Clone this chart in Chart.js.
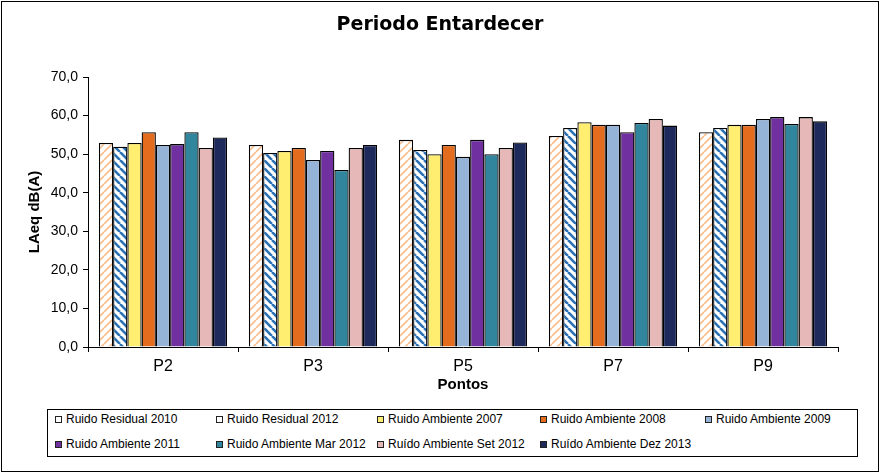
<!DOCTYPE html>
<html>
<head>
<meta charset="utf-8">
<script src="https://cdn.jsdelivr.net/npm/chart.js@4/dist/chart.umd.min.js"></script>
<style>
  body { margin: 0; background: #fff; }
  #wrap { position: relative; width: 880px; height: 472px; overflow: hidden; }
  #c { position: absolute; left: 0; top: 0; }
  #title { position: absolute; left: 0; top: 14px; width: 880px; text-align: center;
           font: bold 19px "DejaVu Sans", sans-serif; line-height: 19px; color: #000; }
  #frame { position: absolute; left: 1px; top: 1px; width: 878px; height: 471px;
           border: 1px solid #000; box-sizing: border-box; pointer-events: none; }
  #legend { position: absolute; left: 47px; top: 409px; width: 811px; height: 48px;
            border: 1px solid #000; box-sizing: border-box; background: #fff; }
  .item { position: absolute; height: 14px; display: flex; align-items: center;
          font: 12px "Liberation Sans", Arial, sans-serif; color: #000; white-space: nowrap; }
  .mk { width: 7px; height: 7px; border: 1px solid #222; box-sizing: border-box; margin-right: 4px; }
</style>
</head>
<body>
<div id="wrap">
  <canvas id="c" width="880" height="472"></canvas>
  <div id="title">Periodo Entardecer</div>
  <div id="legend"></div>
  <div id="frame"></div>
</div>
<script>
// ---- data ----
const categories = ['P2', 'P3', 'P5', 'P7', 'P9'];
const seriesLabels = [
  'Ruido Residual 2010', 'Ruido Residual 2012', 'Ruido Ambiente 2007',
  'Ruido Ambiente 2008', 'Ruido Ambiente 2009', 'Ruido Ambiente 2011',
  'Ruido Ambiente Mar 2012', 'Ruído Ambiente Set 2012', 'Ruído Ambiente Dez 2013'
];
const residual2010   = [52.9, 52.4, 53.7, 54.7, 55.7];
const residual2012   = [51.9, 50.3, 51.1, 56.8, 56.8];
const ambiente2007   = [52.9, 50.8, 50.0, 58.3, 57.6];
const ambiente2008   = [55.7, 51.6, 52.4, 57.6, 57.6];
const ambiente2009   = [52.4, 48.5, 49.3, 57.6, 59.1];
const ambiente2011   = [52.6, 50.8, 53.7, 55.7, 59.6];
const ambienteMar2012 = [55.7, 45.9, 50.0, 58.1, 57.8];
const ambienteSet2012 = [51.6, 51.6, 51.6, 59.1, 59.6];
const ambienteDez2013 = [54.3, 52.4, 53.0, 57.4, 58.5];
const yTickValues = [0, 10, 20, 30, 40, 50, 60, 70];

const seriesValues = [residual2010, residual2012, ambiente2007, ambiente2008, ambiente2009,
  ambiente2011, ambienteMar2012, ambienteSet2012, ambienteDez2013];

// ---- styles ----
const ctx = document.getElementById('c').getContext('2d');
function hatch(color, lw, size, dir) {
  const cv = document.createElement('canvas');
  cv.width = size; cv.height = size;
  const x = cv.getContext('2d');
  x.fillStyle = '#fff'; x.fillRect(0, 0, size, size);
  x.strokeStyle = color; x.lineWidth = lw; x.beginPath();
  for (let k = -1; k <= 1; k++) {
    if (dir === '/') { x.moveTo(k * size, size); x.lineTo(k * size + size, 0); }
    else { x.moveTo(k * size, 0); x.lineTo(k * size + size, size); }
  }
  x.stroke();
  return ctx.createPattern(cv, 'repeat');
}
const fills = [
  hatch('#F9BE8C', 1.7, 8, '/'),
  hatch('#2A72B5', 2.6, 8, '\\'),
  '#FFEE70', '#E46C1E', '#95B3D7', '#7030A0', '#31859C', '#E6B9B8', '#1F2A5C'
];
const legendSwatch = ['#FFFFFF', '#FFFFFF', '#FFEE70', '#E46C1E', '#95B3D7', '#7030A0', '#31859C', '#E6B9B8', '#1F2A5C'];

const datasets = seriesLabels.map((lab, i) => ({
  label: lab,
  data: seriesValues[i],
  backgroundColor: fills[i],
  borderColor: '#000',
  borderWidth: 1.3,
  borderSkipped: 'start',
  categoryPercentage: 0.855,
  barPercentage: 1.0
}));

new Chart(ctx, {
  type: 'bar',
  data: { labels: categories, datasets },
  options: {
    responsive: false,
    animation: false,
    devicePixelRatio: 1,
    layout: { padding: { left: 0, right: 42, top: 77, bottom: 0 } },
    plugins: { legend: { display: false }, title: { display: false }, tooltip: { enabled: false } },
    scales: {
      x: {
        afterFit: s => { s.height = 125; },
        grid: { display: true, drawOnChartArea: false, drawTicks: true, tickLength: 5, color: '#000', offset: true },
        border: { display: true, color: '#000', width: 1 },
        ticks: { color: '#000', padding: 5, font: { family: 'Liberation Sans', size: 16 } },
        title: { display: true, text: 'Pontos', color: '#000', padding: { top: 0, bottom: 78 },
                 font: { family: 'Liberation Sans', size: 15, weight: 'bold' } }
      },
      y: {
        min: 0, max: 70,
        afterFit: s => { s.width = 88; },
        afterBuildTicks: s => { s.ticks = yTickValues.map(v => ({ value: v })); },
        grid: { display: true, drawOnChartArea: false, drawTicks: true, tickLength: 5, color: '#000' },
        border: { display: true, color: '#000', width: 1 },
        ticks: { color: '#000', padding: 5, font: { family: 'Liberation Sans', size: 14 },
                 callback: v => v.toFixed(1).replace('.', ',') },
        title: { display: true, text: 'LAeq dB(A)', color: '#000', padding: { top: 26, bottom: 0 },
                 font: { family: 'Liberation Sans', size: 15, weight: 'bold' } }
      }
    }
  }
});

// ---- legend (HTML) ----
const legend = document.getElementById('legend');
const colX = [7, 168, 329, 492, 657];
const rowY = [2, 27];
seriesLabels.forEach((lab, i) => {
  const it = document.createElement('div');
  it.className = 'item';
  it.style.left = colX[i % 5] + 'px';
  it.style.top = rowY[Math.floor(i / 5)] + 'px';
  const mk = document.createElement('span');
  mk.className = 'mk';
  mk.style.background = legendSwatch[i];
  const tx = document.createElement('span');
  tx.textContent = lab;
  it.appendChild(mk); it.appendChild(tx);
  legend.appendChild(it);
});
</script>
</body>
</html>
